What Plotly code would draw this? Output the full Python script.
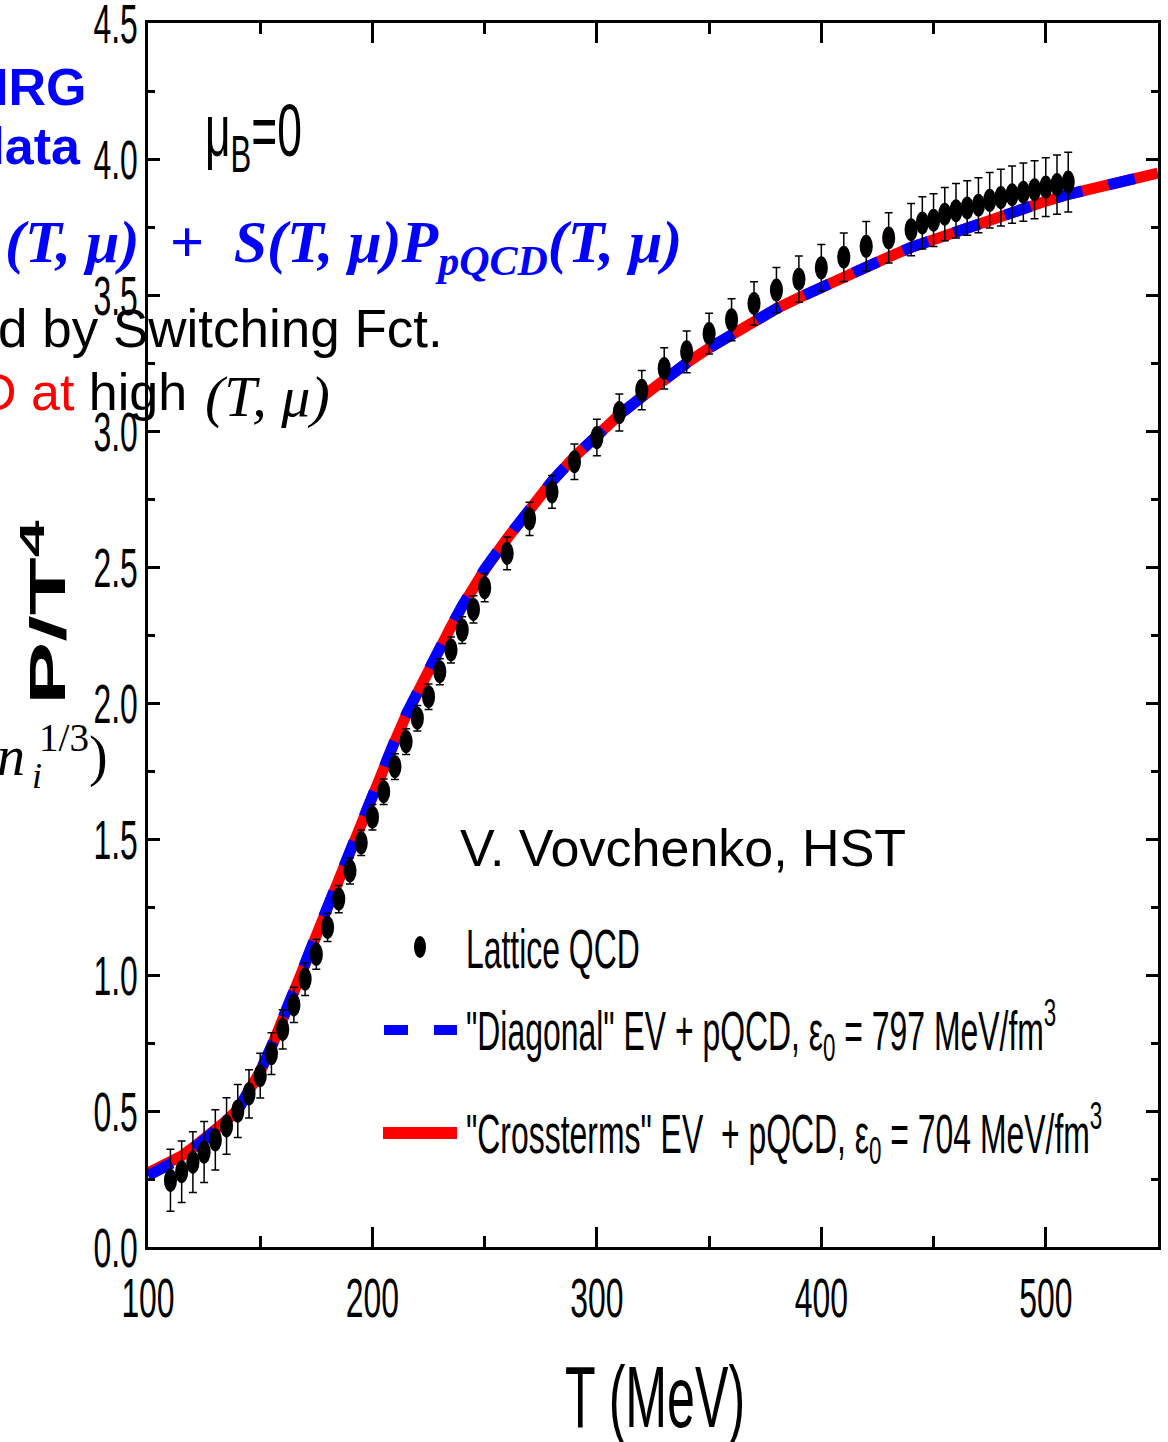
import plotly.graph_objects as go

# Lattice QCD pressure at mu_B = 0
T_lat = [110, 115, 120, 125, 130, 135, 140, 145, 150, 155, 160, 165, 170, 175, 180,
         185, 190, 195, 200, 205, 210, 215, 220, 225, 230, 235, 240, 245, 250,
         260, 270, 280, 290, 300, 310, 320, 330, 340, 350, 360, 370, 380, 390, 400,
         410, 420, 430,
         440, 445, 450, 455, 460, 465, 470, 475, 480, 485, 490, 495, 500, 505, 510]
P_lat = [0.245, 0.277, 0.312, 0.349, 0.394, 0.445, 0.500, 0.563, 0.630, 0.711, 0.800,
         0.890, 0.985, 1.076, 1.175, 1.279, 1.383, 1.486, 1.580, 1.674, 1.766, 1.858,
         1.944, 2.023, 2.115, 2.195, 2.268, 2.344, 2.424,
         2.550, 2.677, 2.776, 2.887, 2.976, 3.068, 3.150, 3.230, 3.291, 3.358, 3.409,
         3.469, 3.518, 3.558, 3.600, 3.639, 3.679, 3.710,
         3.740, 3.765, 3.775, 3.797, 3.810, 3.820, 3.830, 3.848, 3.858, 3.869, 3.878,
         3.887, 3.897, 3.906, 3.915]
P_err = [0.114, 0.113, 0.112, 0.112, 0.111, 0.104, 0.097, 0.089, 0.082, 0.077, 0.072,
         0.065, 0.060, 0.055, 0.052, 0.050, 0.048, 0.047, 0.047, 0.047, 0.047, 0.047,
         0.047, 0.047, 0.048, 0.048, 0.049, 0.050, 0.052,
         0.060, 0.061, 0.060, 0.065, 0.067, 0.068, 0.072, 0.076, 0.077, 0.075, 0.077,
         0.080, 0.083, 0.085, 0.086, 0.089, 0.091, 0.092,
         0.096, 0.096, 0.097, 0.098, 0.100, 0.100, 0.101, 0.102, 0.104, 0.105, 0.107,
         0.107, 0.108, 0.109, 0.110]

# Model curves (EV-HRG + pQCD via switching function)
T_curve = [100, 105, 110, 115, 120, 125, 130, 135, 140, 145, 150, 155, 160, 165, 170,
           175, 180, 185, 190, 195, 200, 205, 210, 215, 220, 225, 230, 235, 240, 245,
           250, 260, 270, 280, 290, 300, 310, 320, 330, 340, 350, 360, 370, 380, 390,
           400, 410, 420, 430, 440, 450, 460, 470, 480, 490, 500, 510, 520, 530, 540, 550]
P_cross = [0.272, 0.290, 0.310, 0.335, 0.365, 0.395, 0.430, 0.465, 0.505, 0.570, 0.645,
           0.735, 0.830, 0.930, 1.040, 1.145, 1.250, 1.355, 1.460, 1.560, 1.665, 1.765,
           1.860, 1.955, 2.040, 2.120, 2.200, 2.280, 2.355, 2.425, 2.490, 2.605, 2.715,
           2.815, 2.905, 2.985, 3.060, 3.125, 3.190, 3.250, 3.305, 3.355, 3.405, 3.450,
           3.490, 3.530, 3.570, 3.605, 3.640, 3.675, 3.705, 3.735, 3.765, 3.790, 3.820,
           3.845, 3.870, 3.890, 3.910, 3.930, 3.948]
P_diag = [0.262, 0.281, 0.302, 0.328, 0.359, 0.391, 0.427, 0.463, 0.503, 0.570, 0.646,
          0.737, 0.833, 0.933, 1.043, 1.148, 1.253, 1.358, 1.463, 1.563, 1.668, 1.768,
          1.862, 1.957, 2.042, 2.122, 2.202, 2.282, 2.357, 2.427, 2.492, 2.606, 2.716,
          2.815, 2.905, 2.985, 3.060, 3.125, 3.190, 3.250, 3.305, 3.355, 3.405, 3.450,
          3.490, 3.530, 3.570, 3.605, 3.640, 3.675, 3.705, 3.735, 3.765, 3.790, 3.820,
          3.845, 3.870, 3.890, 3.910, 3.930, 3.948]

x_ticks = [100, 200, 300, 400, 500]
y_ticks = [0.0, 0.5, 1.0, 1.5, 2.0, 2.5, 3.0, 3.5, 4.0, 4.5]

SANS = "Liberation Sans, Arial, sans-serif"
SERIF = "Liberation Serif, DejaVu Serif, serif"
BLUE = "#0000FF"
RED = "#FF0000"
SQUEEZE = 0.57   # horizontal condensing of the chart's own lettering

W, H = 1168, 1442
L, R, TOP, B = 148, 10, 23, 195
PW, PH = W - L - R, H - TOP - B


def px(xp):
    return (xp - L) / PW


def py(yp):
    return (H - B - yp) / PH


fig = go.Figure()

fig.add_trace(go.Scatter(
    x=T_curve, y=P_cross, mode="lines",
    line=dict(color=RED, width=11), showlegend=False, hoverinfo="skip"))
fig.add_trace(go.Scatter(
    x=T_curve, y=P_diag, mode="lines",
    line=dict(color=BLUE, width=11, dash="27px,27px"), showlegend=False, hoverinfo="skip"))
fig.add_trace(go.Scatter(
    x=T_lat, y=P_lat, mode="markers",
    marker=dict(color="black", size=23),
    error_y=dict(type="data", array=P_err, color="black", thickness=1.5, width=4),
    showlegend=False))

# Legend drawn inside the frame
fig.add_shape(type="circle", xref="paper", yref="paper",
              x0=px(414), x1=px(426), y0=py(958), y1=py(936),
              fillcolor="black", line=dict(width=0))
for x0, x1 in [(384, 408), (434, 457)]:
    fig.add_shape(type="line", xref="paper", yref="paper",
                  x0=px(x0), x1=px(x1), y0=py(1030), y1=py(1030),
                  line=dict(color=BLUE, width=10))
fig.add_shape(type="line", xref="paper", yref="paper",
              x0=px(383), x1=px(457), y0=py(1133), y1=py(1133),
              line=dict(color=RED, width=12))

# (annotation, horizontal scale applied after drawing)
ann = []
leg_font = dict(family=SANS, size=56, color="black")
for text, yp in [("Lattice QCD", 948),
                 ("\"Diagonal\" EV + pQCD, ε<sub>0</sub> = 797 MeV/fm<sup>3</sup>", 1030),
                 ("\"Crossterms\" EV  + pQCD, ε<sub>0</sub> = 704 MeV/fm<sup>3</sup>", 1133)]:
    ann.append((dict(x=px(464), y=py(yp), xanchor="left", align="left", text=text,
                     font=leg_font), SQUEEZE))
ann.append((dict(x=px(203), y=py(136), xanchor="left", align="left",
                 text="μ<sub>B</sub>=0",
                 font=dict(family=SANS, size=74, color="black")), 0.6))
ann.append((dict(x=px(655), y=py(1396), xanchor="center", text="T (MeV)",
                 font=dict(family=SANS, size=88, color="black")), SQUEEZE))
ann.append((dict(x=px(44), y=py(612), xanchor="center", text="<b>P/T<sup>4</sup></b>",
                 textangle=-90, font=dict(family=SANS, size=50, color="black")), 1.9))
ann.append((dict(x=px(458), y=py(848), xanchor="left", align="left",
                 text="V. Vovchenko, HST",
                 font=dict(family=SANS, size=52, color="black")), 1.0))
# slide text around the chart
ann.append((dict(x=px(89), y=py(87), xanchor="right", align="right", text="<b>HRG</b>",
                 font=dict(family=SANS, size=52, color=BLUE)), 1.0))
ann.append((dict(x=px(83), y=py(146), xanchor="right", align="right", text="<b>data</b>",
                 font=dict(family=SANS, size=52, color=BLUE)), 1.0))
ann.append((dict(x=px(684), y=py(246), xanchor="right", align="right",
                 text="<b><i>(T, μ)\u00a0 + \u00a0S(T, μ)P<sub>pQCD</sub>(T, μ)</i></b>",
                 font=dict(family=SERIF, size=60, color=BLUE)), 1.0))
ann.append((dict(x=px(445), y=py(328), xanchor="right", align="right",
                 text="d by Switching Fct.",
                 font=dict(family=SANS, size=53, color="black")), 1.0))
ann.append((dict(x=px(189), y=py(392), xanchor="right", align="right",
                 text="<span style='color:#FF0000'>D at</span> high",
                 font=dict(family=SANS, size=52, color="black")), 1.0))
ann.append((dict(x=px(203), y=py(396), xanchor="left", align="left",
                 text="<i>(T,\u00a0μ)</i>",
                 font=dict(family=SERIF, size=58, color="black")), 1.0))
ann.append((dict(x=px(110), y=py(752), xanchor="right", align="right",
                 text="<i>n</i>\u00a0<sup>1/3</sup>)",
                 font=dict(family=SERIF, size=56, color="black")), 1.0))
ann.append((dict(x=px(30), y=py(776), xanchor="left", align="left", text="<i>i</i>",
                 font=dict(family=SERIF, size=36, color="black")), 1.0))

squeeze_map = {}
for i, (a, s) in enumerate(ann):
    fig.add_annotation(xref="paper", yref="paper", yanchor="middle", showarrow=False, **a)
    if s != 1.0:
        squeeze_map[i] = s

axis_common = dict(
    showline=True, linecolor="black", linewidth=3, mirror="allticks",
    ticks="inside", tickcolor="black", tickwidth=2.5,
    showgrid=False, zeroline=False, ticklabeloverflow="allow", automargin=False,
    tickfont=dict(family=SANS, size=56, color="black"),
)
fig.update_xaxes(range=[100, 550], tickvals=x_ticks, ticklen=20,
                 ticklabelstandoff=0,
                 minor=dict(dtick=50, tick0=0, ticks="inside", ticklen=11,
                            tickwidth=2.5, tickcolor="black"),
                 **axis_common)
fig.update_yaxes(range=[0, 4.5], tickvals=y_ticks, ticktext=[f"{v:.1f}" for v in y_ticks],
                 ticklen=12, ticklabelstandoff=-4,
                 minor=dict(dtick=0.25, tick0=0, ticks="inside", ticklen=7,
                            tickwidth=2.5, tickcolor="black"),
                 **axis_common)

fig.update_layout(
    width=W, height=H,
    margin=dict(l=L, r=R, t=TOP, b=B, autoexpand=False),
    paper_bgcolor="white", plot_bgcolor="white",
    showlegend=False,
)

# Condensed lettering and oval markers: scale text horizontally about its anchor
squeeze_js = "{" + ",".join(f'"{k}":{v}' for k, v in squeeze_map.items()) + "}"
post = """
var gd = document.getElementById('{plot_id}');
function sq(el, s) {
  var a = el.getAttribute('text-anchor') || 'start';
  var bb = el.getBBox();
  var ax = a === 'middle' ? bb.x + bb.width / 2 : (a === 'end' ? bb.x + bb.width : bb.x);
  var t = el.getAttribute('transform') || '';
  el.setAttribute('transform', t + ' translate(' + ax + ',0) scale(' + s + ',1) translate(' + (-ax) + ',0)');
}
gd.querySelectorAll('.xtick text, .ytick text').forEach(function (el) { sq(el, %s); });
var amap = %s;
gd.querySelectorAll('g.annotation').forEach(function (g) {
  var k = g.getAttribute('data-index');
  if (amap[k] !== undefined) {
    var el = g.querySelector('text.annotation-text');
    if (el) { sq(el, amap[k]); }
  }
});
var traces = gd.querySelectorAll('.scatterlayer .trace');
traces[traces.length - 1].querySelectorAll('.points path.point').forEach(function (p) {
  p.setAttribute('transform', (p.getAttribute('transform') || '') + ' scale(%s,1)');
});
""" % (SQUEEZE, squeeze_js, SQUEEZE)

fig.write_html("out.html", config={"displayModeBar": False}, post_script=post)
